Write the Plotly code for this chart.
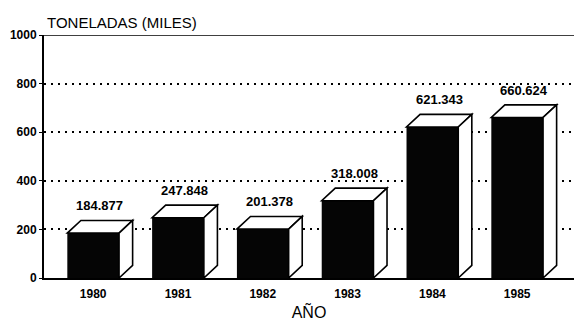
import plotly.graph_objects as go

# Annual tonnage (thousands of tonnes)
years = ["1980", "1981", "1982", "1983", "1984", "1985"]
tonnes = [184.877, 247.848, 201.378, 318.008, 621.343, 660.624]
y_ticks = [0, 200, 400, 600, 800, 1000]

FONT = "Liberation Sans Narrow, Arial Narrow, Liberation Sans, Arial"

xs = list(range(len(years)))
bar_w = 0.61      # front face width (x units)
dx, dy = 0.16, 52  # depth offset of the 3D box (x units, y units)

fig = go.Figure()
fig.add_trace(go.Bar(
    x=xs, y=tonnes, width=bar_w,
    marker=dict(color="#050505", line=dict(width=0)),
    hoverinfo="skip",
))

shapes = []
for x, v in zip(xs, tonnes):
    l, r = x - bar_w / 2, x + bar_w / 2
    # top face
    shapes.append(dict(
        type="path", xref="x", yref="y",
        path=f"M {l},{v} L {r},{v} L {r+dx},{v+dy} L {l+dx},{v+dy} Z",
        fillcolor="white", line=dict(color="black", width=1.6),
    ))
    # side face
    shapes.append(dict(
        type="path", xref="x", yref="y",
        path=f"M {r},{0} L {r+dx},{dy} L {r+dx},{v+dy} L {r},{v} Z",
        fillcolor="white", line=dict(color="black", width=1.6),
    ))
# frame line along the top of the plot
shapes.append(dict(type="line", xref="paper", yref="y", x0=0, x1=1,
                   y0=1000, y1=1000, line=dict(color="black", width=1.6)))

annotations = [
    dict(x=x + dx / 2, y=v + dy, text=f"{v:.3f}", showarrow=False,
         yanchor="bottom", yshift=5,
         font=dict(family=FONT, size=13, color="black", weight="bold"))
    for x, v in zip(xs, tonnes)
]
annotations.append(dict(
    x=0.0, xref="paper", xanchor="left", xshift=1,
    y=1000, yref="y", yanchor="bottom", yshift=2,
    text="TONELADAS (MILES)", showarrow=False,
    font=dict(family=FONT, size=15, color="black"),
))

fig.update_layout(
    width=574, height=325,
    margin=dict(l=44, r=0, t=35, b=47),
    paper_bgcolor="white", plot_bgcolor="white",
    showlegend=False,
    shapes=shapes,
    annotations=annotations,
    xaxis=dict(
        range=[-0.58, 5.67],
        tickvals=xs, ticktext=years,
        showgrid=False, zeroline=False,
        showline=True, linecolor="black", linewidth=2,
        ticks="", ticklabelstandoff=4,
        tickfont=dict(family=FONT, size=12, color="black", weight="bold"),
        title=dict(text="AÑO", standoff=6,
                   font=dict(family=FONT, size=16, color="black")),
    ),
    yaxis=dict(
        range=[0, 1000],
        tickvals=y_ticks, ticktext=[str(t) for t in y_ticks],
        showgrid=True, gridcolor="black", gridwidth=1.6, griddash="2px,5px",
        zeroline=False,
        showline=True, linecolor="black", linewidth=2,
        ticks="outside", ticklen=3, tickcolor="black",
        tickfont=dict(family=FONT, size=12, color="black", weight="bold"),
    ),
)

fig.write_html("out.html")
